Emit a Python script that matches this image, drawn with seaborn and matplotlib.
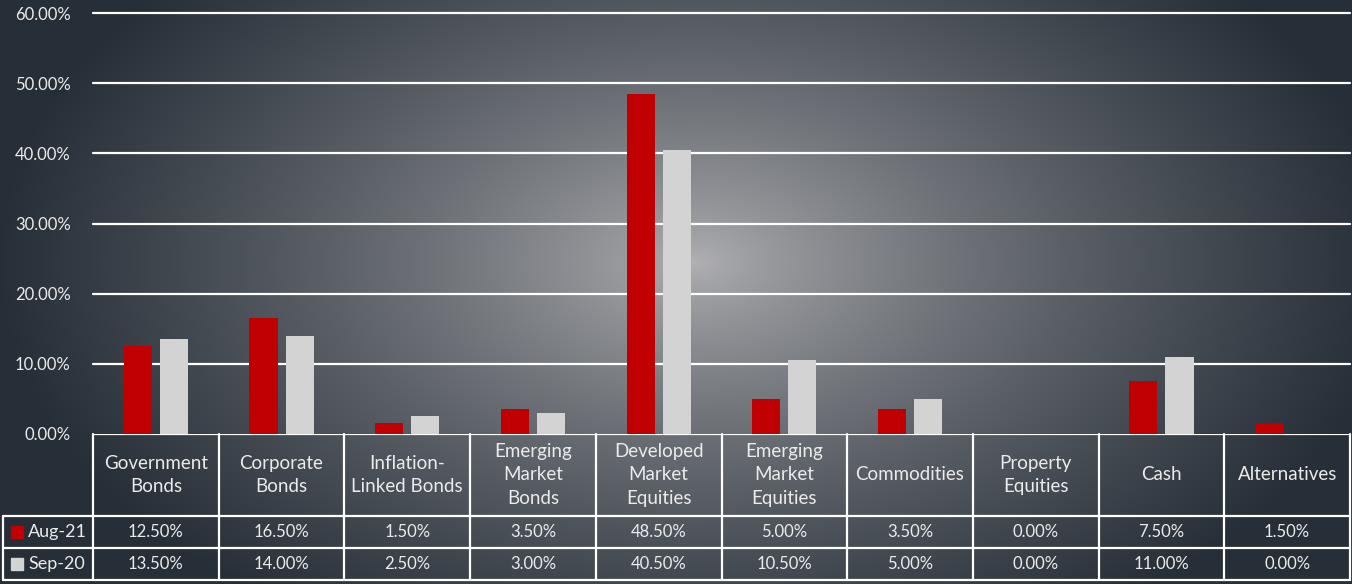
"""
Asset allocation comparison: Aug-21 vs Sep-20, bar chart with data table.
"""

import matplotlib.pyplot as plt
import numpy as np
import pandas as pd
import seaborn as sns
from matplotlib.patches import Rectangle

categories = [
    "Government\nBonds", "Corporate\nBonds", "Inflation-\nLinked Bonds",
    "Emerging\nMarket\nBonds", "Developed\nMarket\nEquities", "Emerging\nMarket\nEquities",
    "Commodities", "Property\nEquities", "Cash", "Alternatives",
]
series = ["Aug-21", "Sep-20"]
aug21 = [12.5, 16.5, 1.5, 3.5, 48.5, 5.0, 3.5, 0.0, 7.5, 1.5]
sep20 = [13.5, 14.0, 2.5, 3.0, 40.5, 10.5, 5.0, 0.0, 11.0, 0.0]
yticks = [0, 10, 20, 30, 40, 50, 60]

colors = {"Aug-21": "#c00000", "Sep-20": "#d3d3d3"}
text_col = "#ebebeb"

W, H = 1352, 584
sns.set_theme(style="white")
plt.rcParams["font.family"] = ["Lato", "DejaVu Sans"]

df = pd.DataFrame({
    "category": categories * 2,
    "series": [series[0]] * len(categories) + [series[1]] * len(categories),
    "value": aug21 + sep20,
})

fig = plt.figure(figsize=(W / 100, H / 100), dpi=100)

# radial gradient background
bg = fig.add_axes([0, 0, 1, 1])
yy, xx = np.mgrid[0:H, 0:W]
d = np.sqrt(((xx - 695) / 700.0) ** 2 + ((yy - 262) / 430.0) ** 2)
t = np.clip(d, 0, 1) ** 0.75
center = np.array([178, 178, 181]) / 255
edge = np.array([38, 46, 55]) / 255
img = center[None, None, :] * (1 - t[..., None]) + edge[None, None, :] * t[..., None]
bg.imshow(img, aspect="auto", extent=[0, 1, 0, 1])
bg.set_axis_off()

# main bar chart
left, right, top, zero = 93, 1350, 13, 434
ax = fig.add_axes([left / W, (H - zero) / H, (right - left) / W, (zero - top) / H])
ax.set_facecolor("none")
sns.barplot(data=df, x="category", y="value", hue="series", palette=colors,
            width=0.573, gap=0.22, saturation=1, legend=False, ax=ax, zorder=3,
            edgecolor="none", linewidth=0)
ax.set_ylim(0, 60)
ax.set_xlim(-0.5, len(categories) - 0.5)
ax.set_yticks(yticks)
ax.set_yticklabels([f"{v:.2f}%" for v in yticks], color=text_col, fontsize=12)
ax.tick_params(axis="y", length=0, pad=16)
ax.set_xticks([])
ax.set_xlabel("")
ax.set_ylabel("")
for v in yticks[1:]:
    ax.axhline(v, color="white", lw=1.6, zorder=2, clip_on=False)
for s in ax.spines.values():
    s.set_visible(False)

# data table below
col_px = (right - left) / len(categories)
tleft = 3
tax = fig.add_axes([tleft / W, 4 / H, (right - tleft) / W, 146 / H])
tax.set_facecolor("none")
x0 = -0.5 - (left - tleft) / col_px
tax.set_xlim(x0, len(categories) - 0.5)
tax.set_ylim(146, 0)
tax.set_axis_off()

lc, lw = "white", 1.6
n = len(categories)
tax.plot([-0.5, n - 0.5], [0, 0], color=lc, lw=lw)
for y in (82, 114, 146):
    tax.plot([x0, n - 0.5], [y, y], color=lc, lw=lw, clip_on=False)
for i in range(n + 1):
    tax.plot([i - 0.5, i - 0.5], [0, 146], color=lc, lw=lw, clip_on=False)
tax.plot([x0, x0], [82, 146], color=lc, lw=lw, clip_on=False)

for i, cat in enumerate(categories):
    tax.text(i, 41, cat, ha="center", va="center", color=text_col,
             fontsize=13.5, linespacing=1.45)
    tax.text(i, 98, f"{aug21[i]:.2f}%", ha="center", va="center", color=text_col, fontsize=12)
    tax.text(i, 130, f"{sep20[i]:.2f}%", ha="center", va="center", color=text_col, fontsize=12)

sq = 12 / col_px
for name, yc in zip(series, (98, 130)):
    tax.add_patch(Rectangle((x0 + 8 / col_px, yc - 6), sq, 12, color=colors[name]))
    tax.text(x0 + 25 / col_px, yc, name, ha="left", va="center", color=text_col, fontsize=13)

fig.savefig("out.png", dpi=100)
